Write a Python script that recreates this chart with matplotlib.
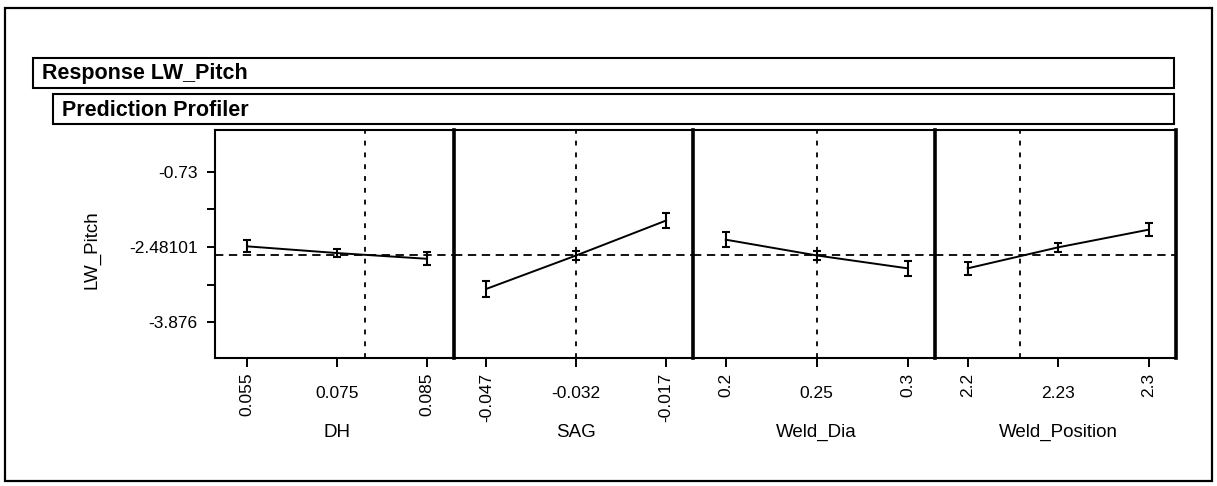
import numpy as np
import matplotlib
matplotlib.use("Agg")
import matplotlib.pyplot as plt
from matplotlib.patches import Rectangle
from matplotlib.transforms import blended_transform_factory

# ---------------- data ----------------
factors = ["DH", "SAG", "Weld_Dia", "Weld_Position"]
level_labels = [["0.055", "0.075", "0.085"],
                ["-0.047", "-0.032", "-0.017"],
                ["0.2", "0.25", "0.3"],
                ["2.2", "2.23", "2.3"]]
levels = [0, 1, 2]
dh_pred = [-2.29, -2.43, -2.55]
dh_err = [0.125, 0.083, 0.139]
sag_pred = [-3.18, -2.48, -1.75]
sag_err = [0.16, 0.10, 0.15]
dia_pred = [-2.15, -2.48, -2.75]
dia_err = [0.16, 0.10, 0.16]
pos_pred = [-2.75, -2.31, -1.94]
pos_err = [0.14, 0.09, 0.14]
preds = [dh_pred, sag_pred, dia_pred, pos_pred]
errs = [dh_err, sag_err, dia_err, pos_err]
current_setting = [1.31, 1.0, 1.0, 0.58]   # position on level axis
current_pred = -2.48101
y_tick_values = list(np.linspace(-0.73, -3.876, 5))
y_tick_labels = ["-0.73", "", "-2.48101", "", "-3.876"]
y_label = "LW_Pitch"

# ---------------- layout ----------------
W, H = 1217, 486
plt.rcParams["font.family"] = ["Liberation Sans", "DejaVu Sans"]
plt.rcParams["lines.scale_dashes"] = False
fig = plt.figure(figsize=(W / 100, H / 100), dpi=100)
fig.patch.set_facecolor("white")

def fx(px):
    return px / W

def fy(py):
    return 1 - py / H

# outer frame and header boxes
fig.add_artist(Rectangle((fx(5), fy(481)), fx(1212) - fx(5), fy(8) - fy(481),
                         transform=fig.transFigure, fill=False, lw=1.6, ec="black"))
fig.add_artist(Rectangle((fx(33), fy(88)), fx(1174) - fx(33), fy(58) - fy(88),
                         transform=fig.transFigure, fill=False, lw=1.5, ec="black"))
fig.add_artist(Rectangle((fx(53), fy(124)), fx(1174) - fx(53), fy(94) - fy(124),
                         transform=fig.transFigure, fill=False, lw=1.5, ec="black"))
fig.text(fx(42), fy(74), "Response LW_Pitch", fontsize=15.5, fontweight="bold",
         ha="left", va="center")
fig.text(fx(62), fy(110), "Prediction Profiler", fontsize=15.5, fontweight="bold",
         ha="left", va="center")

panel_edges = [215, 454, 693, 935, 1176]
top_px, bot_px = 130, 358
ylim = (-4.626, 0.145)
xlim = (-0.36, 2.3)

for i in range(4):
    L, R = panel_edges[i], panel_edges[i + 1]
    ax = fig.add_axes([fx(L), fy(bot_px), fx(R) - fx(L), fy(top_px) - fy(bot_px)])
    ax.patch.set_visible(False)
    ax.set_xlim(*xlim)
    ax.set_ylim(*ylim)

    # reference lines
    ax.axhline(current_pred, color="black", lw=1.3, dashes=(6, 4))
    ax.axvline(current_setting[i], color="black", lw=1.3, dashes=(3.5, 5))

    # profile trace with confidence bars
    ax.errorbar(levels, preds[i], yerr=errs[i], color="black", lw=1.4,
                elinewidth=1.5, capsize=3.0, capthick=1.5)

    # spines
    for s in ("top", "bottom"):
        ax.spines[s].set_linewidth(1.5)
    ax.spines["right"].set_linewidth(2.6)
    if i == 0:
        ax.spines["left"].set_linewidth(1.5)
    else:
        ax.spines["left"].set_visible(False)

    # x ticks
    ax.set_xticks(levels)
    ax.set_xticklabels([level_labels[i][0], "", level_labels[i][2]], rotation=90,
                       fontsize=12.5, va="top")
    ax.tick_params(axis="x", direction="out", length=6.5, width=1.4, pad=4)
    trans = blended_transform_factory(ax.transData, ax.transAxes)
    ax.text(levels[1], (bot_px - 394) / (bot_px - top_px), level_labels[i][1],
            transform=trans, ha="center", va="center", fontsize=12.5)
    ax.text(levels[1], (bot_px - 432) / (bot_px - top_px), factors[i],
            transform=trans, ha="center", va="center", fontsize=13.5)

    # y ticks
    if i == 0:
        ax.set_yticks(y_tick_values)
        ax.set_yticklabels(y_tick_labels, fontsize=12.5)
        ax.tick_params(axis="y", direction="out", length=5.5, width=1.4, pad=7)
        ax.text((92 - L) / (R - L), (bot_px - 250) / (bot_px - top_px), y_label,
                transform=ax.transAxes, rotation=90, ha="center", va="center",
                fontsize=13.5)
    else:
        ax.set_yticks([])

fig.savefig("out.png", dpi=100, facecolor="white")
